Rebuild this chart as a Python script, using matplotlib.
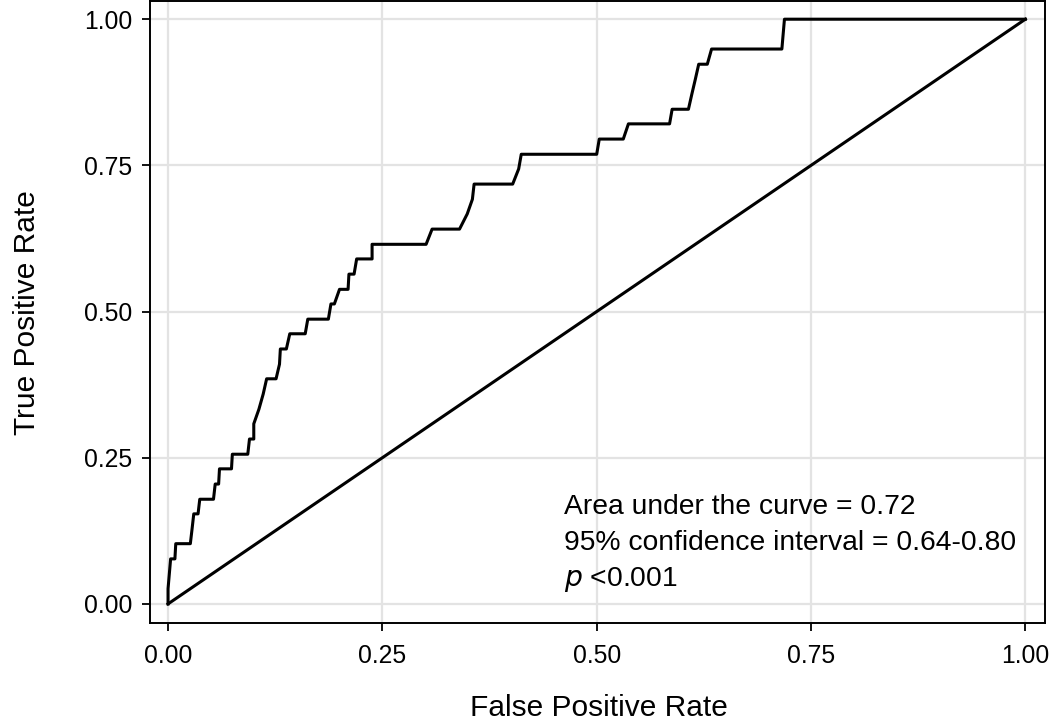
import matplotlib
matplotlib.use("Agg")
import matplotlib.pyplot as plt

# ROC curve vertices
fpr = [0.000, 0.000, 0.003, 0.008, 0.009, 0.026, 0.028, 0.030, 0.035, 0.037,
       0.053, 0.055, 0.059, 0.060, 0.074, 0.075, 0.093, 0.095, 0.100, 0.100,
       0.106, 0.111, 0.115, 0.126, 0.130, 0.131, 0.138, 0.142, 0.160, 0.163,
       0.187, 0.190, 0.194, 0.200, 0.210, 0.211, 0.217, 0.220, 0.238, 0.238,
       0.301, 0.308, 0.340, 0.349, 0.355, 0.357, 0.402, 0.409, 0.412, 0.500,
       0.503, 0.531, 0.537, 0.585, 0.588, 0.607, 0.611, 0.615, 0.619, 0.629,
       0.634, 0.716, 0.719, 1.000]
tpr = [0.000, 0.026, 0.077, 0.077, 0.103, 0.103, 0.128, 0.154, 0.154, 0.179,
       0.179, 0.205, 0.205, 0.231, 0.231, 0.256, 0.256, 0.282, 0.282, 0.308,
       0.333, 0.359, 0.385, 0.385, 0.410, 0.436, 0.436, 0.462, 0.462, 0.487,
       0.487, 0.513, 0.513, 0.538, 0.538, 0.564, 0.564, 0.590, 0.590, 0.615,
       0.615, 0.641, 0.641, 0.667, 0.692, 0.718, 0.718, 0.744, 0.769, 0.769,
       0.795, 0.795, 0.821, 0.821, 0.846, 0.846, 0.872, 0.897, 0.923, 0.923,
       0.949, 0.949, 1.000, 1.000]
ref_line = [0.0, 1.0]
ticks = [0.00, 0.25, 0.50, 0.75, 1.00]
tick_labels = ["0.00", "0.25", "0.50", "0.75", "1.00"]
note = ["Area under the curve = 0.72", "95% confidence interval = 0.64-0.80"]

font = "Liberation Sans"

fig = plt.figure(figsize=(10.5, 7.26), dpi=100)
ax = fig.add_axes([0.1429, 0.142, 0.8524, 0.857])

ax.plot(fpr, tpr, color="black", lw=2.2, zorder=3)
ax.plot(ref_line, ref_line, color="black", lw=2.2, zorder=3)

ax.set_xlim(-0.021, 1.023)
ax.set_ylim(-0.0325, 1.0316)
ax.set_xticks(ticks)
ax.set_yticks(ticks)
ax.set_xticklabels(tick_labels, family=font, fontsize=17.8)
ax.set_yticklabels(tick_labels, family=font, fontsize=17.8)
ax.tick_params(direction="out", length=6, width=1.3, color="black")
ax.tick_params(axis="x", pad=9)
ax.tick_params(axis="y", pad=7)
ax.grid(True, color="#e3e3e3", lw=1.6, zorder=0)
ax.set_axisbelow(True)
for s in ax.spines.values():
    s.set_linewidth(1.4)
    s.set_color("black")

fig.text(0.5707, 0.025, "False Positive Rate", family=font, fontsize=21.5,
         ha="center", va="center")
fig.text(0.026, 0.57, "True Positive Rate", family=font, fontsize=21.5,
         ha="center", va="center", rotation=90)

ax.text(0.4615, 0.153, note[0], family=font, fontsize=20.3, va="baseline")
ax.text(0.4615, 0.092, note[1], family=font, fontsize=20.3, va="baseline")
ax.text(0.4615, 0.031, "$\\it{p}$ <0.001", family=font, fontsize=20.3,
        va="baseline")

fig.savefig("out.png", dpi=100)
